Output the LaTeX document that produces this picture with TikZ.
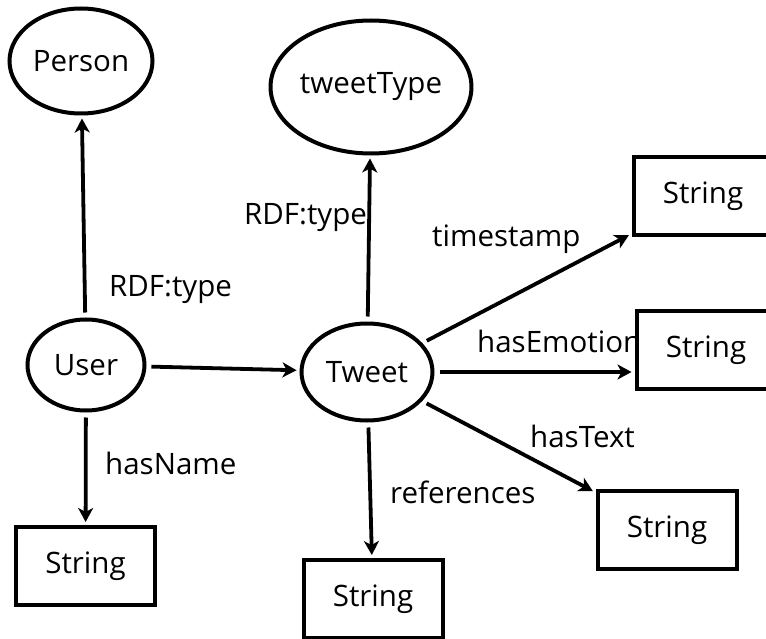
\documentclass[tikz,border=0pt]{standalone}
\usepackage{fontspec}
\setmainfont{Open Sans}
\usetikzlibrary{shapes.geometric,arrows.meta}

\begin{document}
\begin{tikzpicture}[x=1pt,y=1pt,yscale=-1,xscale=1,
  ent/.style={ellipse,draw,line width=4pt,inner sep=0pt,font=\fontsize{29.5}{35}\selectfont},
  lit/.style={rectangle,draw,line width=4pt,inner sep=0pt,minimum width=139pt,minimum height=78pt,font=\fontsize{29.5}{35}\selectfont},
  rel/.style={line width=3.8pt,-{Stealth[length=14pt,width=15pt,inset=4pt]},shorten <=5pt,shorten >=3pt},
  lbl/.style={anchor=base west,inner sep=0pt,font=\fontsize{29.5}{35}\selectfont}]
\clip (0,0) rectangle (766,639);
\useasboundingbox (0,0) rectangle (766,639);

% Ellipses
\node [ent,minimum width=143pt,minimum height=105pt] (person) at (81,61) {Person};
\node [ent,minimum width=181pt,minimum height=133pt] (tweettype) at (371,87) {tweetType};
\node [ent,minimum width=117pt,minimum height=91pt] (user) at (86,365) {User};
\node [ent,minimum width=131pt,minimum height=97pt] (tweet) at (367,372) {Tweet};

% Boxes
\node [lit] (strtime) at (703,196.5) {String};
\node [lit] (stremo) at (706,350) {String};
\node [lit] (strtext) at (667,530) {String};
\node [lit] (strref) at (373,599) {String};
\node [lit] (strname) at (85.5,566) {String};

% Straight Lines
\draw [rel] (user) -- (person);
\draw [rel] (tweet) -- (tweettype);
\draw [rel] (user) -- (tweet);
\draw [rel] (user) -- (strname);
\draw [rel] (tweet) -- (strtime);
\draw [rel] (tweet.east) -- (tweet.east -| stremo.west);
\draw [rel] (tweet) -- (strtext);
\draw [rel] (tweet) -- (strref);

% Text Node
\node [lbl] (ltype1) at (109,297) {RDF:type};
\node [lbl] (ltype2) at (244,225) {RDF:type};
\node [lbl] (ltime) at (432,247) {timestamp};
\node [lbl] (lemo) at (477,352) {hasEmotion};
\node [lbl] (ltext) at (530,447) {hasText};
\node [lbl] (lref) at (390,503) {references};
\node [lbl] (lname) at (105,474) {hasName};

\end{tikzpicture}
\end{document}
